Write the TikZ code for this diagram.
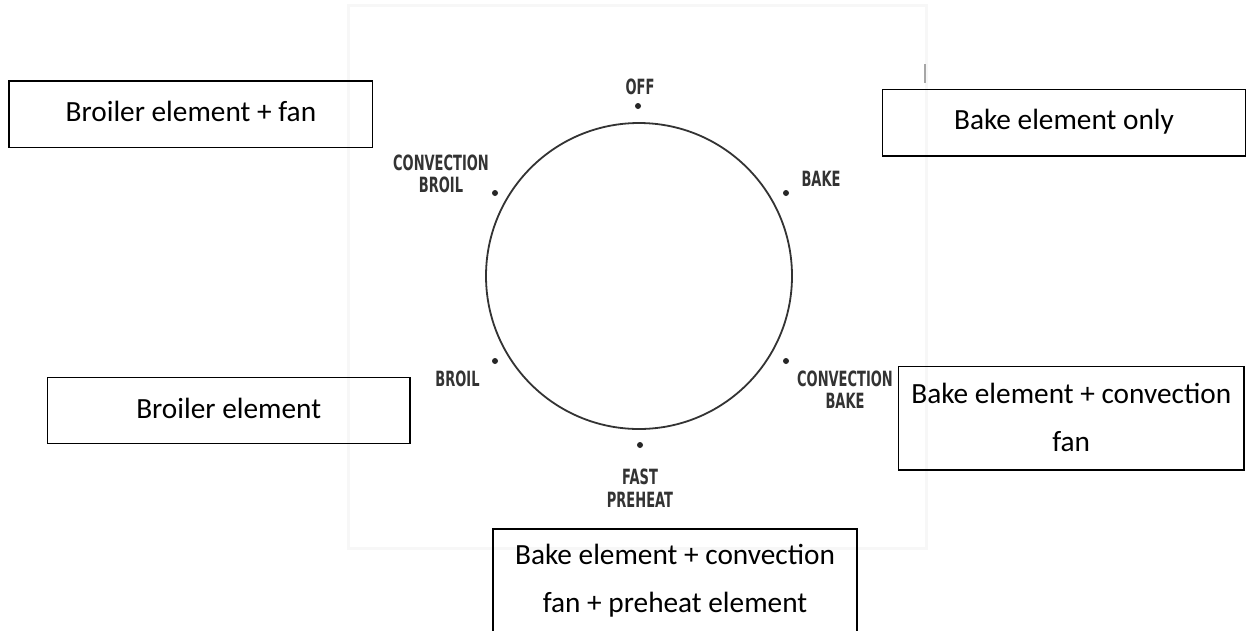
\documentclass[tikz,border=0pt]{standalone}
\usepackage{fontspec}
\setmainfont{Carlito}
\newfontfamily\dialfont[FakeStretch=0.62]{DejaVu Sans}
\begin{document}
\begin{tikzpicture}[x=1pt,y=-1pt,
  box/.style={draw=black, line width=1.3pt, inner sep=0pt},
  boxtext/.style={font=\fontsize{29.3}{47.5}\selectfont, align=center, inner sep=0pt, anchor=base},
  dial/.style={font=\dialfont\bfseries\fontsize{21}{22.5}\selectfont, text=black!80, align=center, inner sep=0pt},
  knobdot/.style={circle, fill=black!85, inner sep=0pt, minimum size=6pt}]
\useasboundingbox (0,0) rectangle (1260,630);
\fill[white] (0,0) rectangle (1260,630);
\clip (0,0) rectangle (1260,630);
% faint photo frame
\draw[black!3, line width=3pt] (348,5) rectangle (926,548);
\draw[black!35, line width=1.5pt] (925,64) -- (925,83);
% dial
\node[draw=black!80, line width=1.8pt, circle, minimum size=306pt, inner sep=0pt] (dial) at (639,276) {};
\node[knobdot] (doff) at (638,106) {};
\node[knobdot] (dbake) at (786,193) {};
\node[knobdot] (dcbake) at (786,361) {};
\node[knobdot] (dfast) at (640,445) {};
\node[knobdot] (dbroil) at (495,361) {};
\node[knobdot] (dcbroil) at (495,193) {};
\node[dial] (loff) at (640,86.5) {OFF};
\node[dial] (lbake) at (821,178.5) {BAKE};
\node[dial] (lcbake) at (845,389.5) {CONVECTION\\BAKE};
\node[dial] (lfast) at (640,488) {FAST\\PREHEAT};
\node[dial] (lbroil) at (457.5,379) {BROIL};
\node[dial] (lcbroil) at (441,174) {CONVECTION\\BROIL};
% boxes
\node[box, minimum width=363.7pt, minimum height=66.7pt] (b1) at (190.9,114.4) {};
\node[boxtext] (t1) at (190.9,121.5) {Broiler element + fan};
\node[box, minimum width=362.6pt, minimum height=66.7pt] (b2) at (1064,122.6) {};
\node[boxtext] (t2) at (1064,129.5) {Bake element only};
\node[box, minimum width=362.7pt, minimum height=66pt] (b3) at (228.7,410.3) {};
\node[boxtext] (t3) at (228.7,418) {Broiler element};
\node[box, minimum width=345.7pt, minimum height=103.3pt] (b4) at (1071.2,418.3) {};
\node[boxtext] (t4) at (1071.2,451) {Bake element + convection\\fan};
\node[box, minimum width=364pt, minimum height=140pt] (b5) at (675,599) {};
\node[boxtext] (t5) at (675,612) {Bake element + convection\\fan + preheat element};
\end{tikzpicture}
\end{document}
